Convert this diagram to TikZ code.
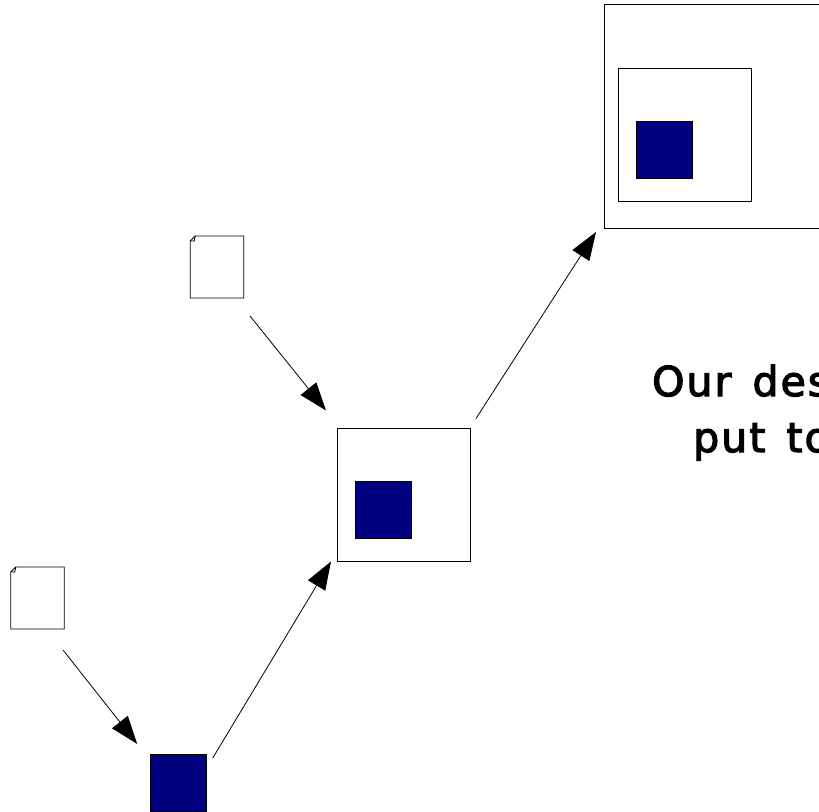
\documentclass[tikz,border=0pt]{standalone}
\usepackage{fontspec}
\setmainfont{Liberation Sans}
\newfontfamily\labelfont[LetterSpace=5,FakeBold=3,WordSpace=1.4]{DejaVu Sans}
\usetikzlibrary{arrows.meta}
\tikzset{
  x=1pt,y=-1pt,
  box/.style={draw=black,line width=0.9pt,fill=white,inner sep=0pt,outer sep=0pt},
  bigbox/.style={box,minimum width=133pt,minimum height=133pt},
  hugebox/.style={box,minimum width=240pt,minimum height=224pt},
  bluebox/.style={draw=black,line width=0.7pt,fill=navyblue,inner sep=0pt,outer sep=0pt,minimum width=56.5pt,minimum height=57pt},
  docbox/.style={inner sep=0pt,outer sep=0pt,minimum width=53.5pt,minimum height=62pt},
  docline/.style={draw=black,line width=0.8pt,line join=miter},
  conn/.style={draw=black,line width=0.8pt,-{Triangle[length=28pt,width=20pt]}},
  caption/.style={inner sep=0pt,anchor=base west,font=\labelfont\fontsize{41}{41}\selectfont,text=black}
}
\definecolor{navyblue}{RGB}{0,0,128}
\begin{document}
\begin{tikzpicture}
\useasboundingbox (0,0) rectangle (819,811);
\clip (0,0) rectangle (819,811);
\fill[white] (0,0) rectangle (819,811);
% nodes
\node[docbox] (doca) at (37.5,598) {};
\node[docbox] (docb) at (217,267) {};
\node[bluebox] (bluea) at (178.5,782.5) {};
\node[bigbox] (boxa) at (403.5,495) {};
\node[bluebox] (blueb) at (383.5,509.5) {};
\node[hugebox] (boxc) at (724,116) {};
\node[bigbox] (boxb) at (684.5,134.5) {};
\node[bluebox] (bluec) at (664.5,149.5) {};
% documents with a folded corner
\foreach \d in {doca,docb}{
  \draw[docline] ([xshift=5pt]\d.north west) -- (\d.north east) -- (\d.south east) -- (\d.south west) -- ([yshift=-5pt]\d.north west) -- cycle;
  \draw[docline] ([xshift=5pt]\d.north west) -- ([xshift=4pt,yshift=-5pt]\d.north west) -- ([yshift=-5pt]\d.north west);
}
% connectors
\draw[conn] ([xshift=25.5pt,yshift=-21pt]doca.south) -- ([xshift=-13pt,yshift=10pt]bluea.north west);
\draw[conn] ([xshift=6pt,yshift=-4pt]bluea.north east) -- ([xshift=-6pt,yshift=0pt]boxa.south west);
\draw[conn] ([xshift=33pt,yshift=-18pt]docb.south) -- ([xshift=-11pt,yshift=18pt]boxa.north west);
\draw[conn] ([xshift=6pt,yshift=10pt]boxa.north east) -- ([xshift=-8pt,yshift=-4pt]boxc.south west);
% text
\node[caption] (capa) at (652,396) {Our des};
\node[caption] (capb) at (693,452) {put to};
\end{tikzpicture}
\end{document}
